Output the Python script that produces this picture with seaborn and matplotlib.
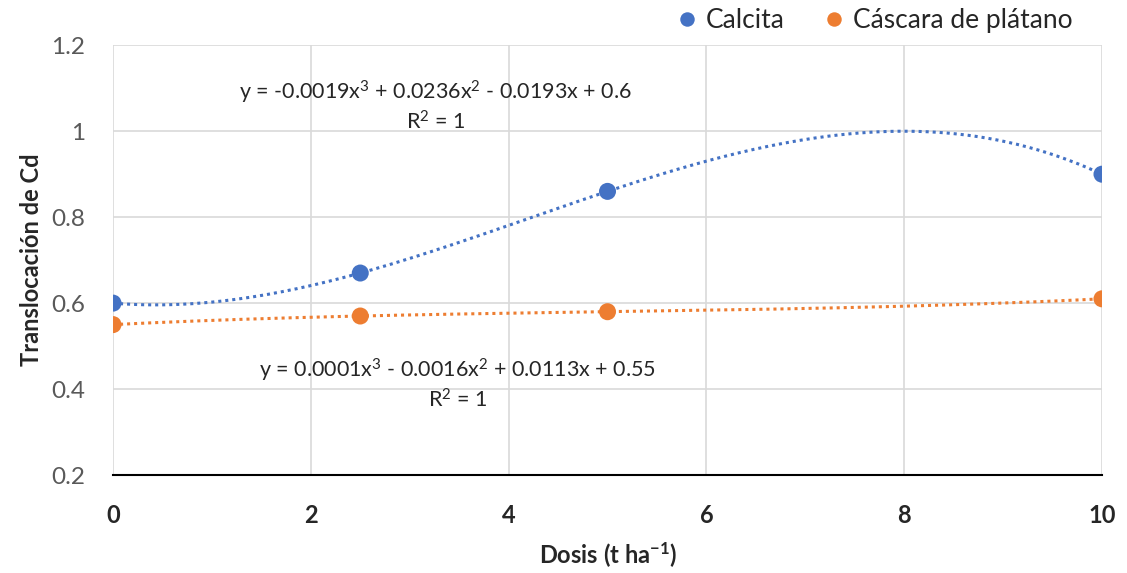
import numpy as np
import pandas as pd
import seaborn as sns
import matplotlib.pyplot as plt

# datos
dosis = [0, 2.5, 5, 10]
calcita = [0.60, 0.67, 0.86, 0.90]
cascara = [0.55, 0.57, 0.58, 0.61]
series = ['Calcita', 'Cáscara de plátano']
colores = ['#4472C4', '#ED7D31']
ecuaciones = ['y = -0.0019x$^3$ + 0.0236x$^2$ - 0.0193x + 0.6\nR$^2$ = 1',
              'y = 0.0001x$^3$ - 0.0016x$^2$ + 0.0113x + 0.55\nR$^2$ = 1']

sns.set_style('white')
plt.rcParams['font.family'] = ['Lato', 'DejaVu Sans']
plt.rcParams['mathtext.fontset'] = 'custom'
plt.rcParams['mathtext.rm'] = 'Lato'
plt.rcParams['mathtext.it'] = 'Lato:italic'
plt.rcParams['mathtext.bf'] = 'Lato:bold'

df = pd.DataFrame({'Dosis': dosis * 2,
                   'Translocacion': calcita + cascara,
                   'Serie': [series[0]] * 4 + [series[1]] * 4})

fig = plt.figure(figsize=(11.27, 5.73), dpi=100)
ax = fig.add_axes([0.1003, 0.171, 0.8775, 0.75])

# lineas de tendencia polinomica (grado 3)
xs = np.linspace(0, 10, 200)
for nombre, ys, c in zip(series, [calcita, cascara], colores):
    coef = np.polyfit(dosis, ys, 3)
    sns.lineplot(x=xs, y=np.polyval(coef, xs), color=c, lw=2.2,
                 linestyle=(0, (1, 1.3)), ax=ax, legend=False)

sns.scatterplot(data=df, x='Dosis', y='Translocacion', hue='Serie',
                palette=colores, s=150, edgecolor='none', ax=ax, zorder=5)

ax.set_xlim(0, 10)
ax.set_ylim(0.2, 1.2)
ax.set_xticks([0, 2, 4, 6, 8, 10])
ax.set_yticks([0.2, 0.4, 0.6, 0.8, 1.0, 1.2])
ax.set_yticklabels(['0.2', '0.4', '0.6', '0.8', '1', '1.2'])
ax.grid(True, color='#D9D9D9', lw=1.2)
ax.set_axisbelow(True)
for s in ['top', 'right', 'left']:
    ax.spines[s].set_visible(False)
ax.spines['bottom'].set_color('black')
ax.spines['bottom'].set_linewidth(1.5)
ax.tick_params(axis='y', labelsize=17.5, labelcolor='#595959', length=0, pad=20)
ax.tick_params(axis='x', labelsize=17, length=0, pad=21)
for t in ax.get_xticklabels():
    t.set_fontweight('bold')

ax.set_xlabel('Dosis (t ha$^{\\mathbf{-1}}$)', fontsize=17, fontweight='bold', labelpad=9)
ax.set_ylabel('Translocación de Cd', fontsize=17, fontweight='bold', labelpad=6)

ax.text(3.26, 1.058, ecuaciones[0], ha='center', va='center', fontsize=15.5, linespacing=1.2)
ax.text(3.48, 0.411, ecuaciones[1], ha='center', va='center', fontsize=15.5, linespacing=1.2)

ax.legend(loc='center', bbox_to_anchor=(0.77, 1.058), ncol=2, frameon=False,
          fontsize=19, handlelength=0.8, handletextpad=0.3, columnspacing=1.5,
          markerscale=0.85)

fig.savefig('out.png', dpi=100)
